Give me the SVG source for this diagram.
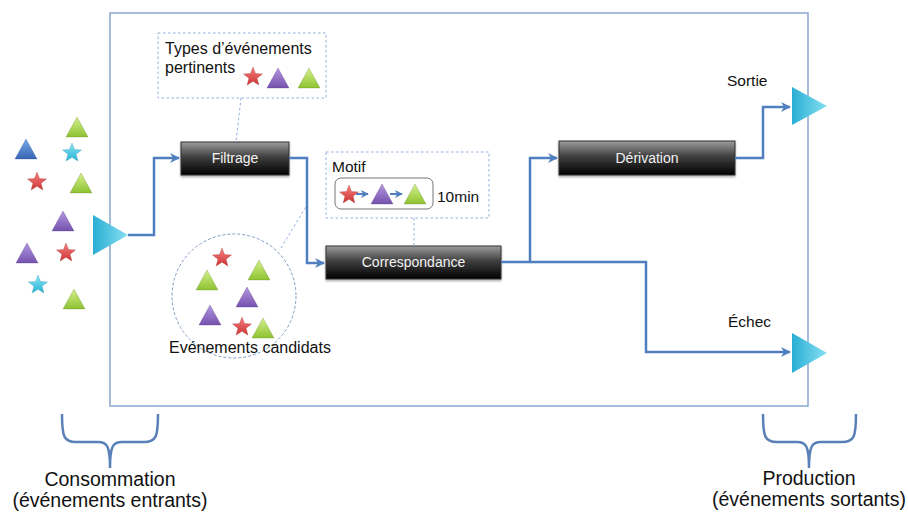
<svg xmlns="http://www.w3.org/2000/svg" width="908" height="513" viewBox="0 0 908 513">
<style>
.t{font-family:"Liberation Sans",Arial,sans-serif;fill:#111}
.bt{font-family:"Liberation Sans",Arial,sans-serif;fill:#f2f2f2;font-size:14px;text-anchor:middle}
.conn{fill:none;stroke:#4f7fbf;stroke-width:2.5}
.dot{fill:none;stroke:#8fb0dc;stroke-width:1;stroke-dasharray:2.5 2.5}
.box{stroke:#333;stroke-width:1}
.brace{fill:none;stroke:#5a80b8;stroke-width:2.5}
</style>
<defs>
<linearGradient id="gGreen" x1="0" y1="0" x2="0" y2="1"><stop offset="0" stop-color="#d4f08c"/><stop offset="1" stop-color="#8ec232"/></linearGradient>
<linearGradient id="gPurple" x1="0" y1="0" x2="0" y2="1"><stop offset="0" stop-color="#b497e0"/><stop offset="1" stop-color="#7552ae"/></linearGradient>
<linearGradient id="gBlue" x1="0" y1="0" x2="0" y2="1"><stop offset="0" stop-color="#78a8ea"/><stop offset="1" stop-color="#3766b4"/></linearGradient>
<linearGradient id="gRed" x1="0" y1="0" x2="0" y2="1"><stop offset="0" stop-color="#f78080"/><stop offset="1" stop-color="#cc3434"/></linearGradient>
<linearGradient id="gCyan" x1="0" y1="0" x2="0" y2="1"><stop offset="0" stop-color="#8ee9f7"/><stop offset="1" stop-color="#26b0d2"/></linearGradient>
<linearGradient id="gBig" x1="0" y1="0" x2="1" y2="0"><stop offset="0" stop-color="#2aaed4"/><stop offset="1" stop-color="#86e0f2"/></linearGradient>
<linearGradient id="gBox" x1="0" y1="0" x2="0" y2="1"><stop offset="0" stop-color="#9c9c9c"/><stop offset="0.45" stop-color="#404040"/><stop offset="1" stop-color="#000"/></linearGradient>
<path id="tri" d="M-11,10 L0,-10 L11,10 Z" stroke-opacity="0.35" stroke-width="0.8"/>
<path id="star" d="M0,-10 L2.53,-3.48 L9.51,-3.09 L4.09,1.33 L5.88,8.09 L0,4.3 L-5.88,8.09 L-4.09,1.33 L-9.51,-3.09 L-2.53,-3.48 Z" stroke-opacity="0.35" stroke-width="0.8"/>
<marker id="arr" viewBox="0 0 10 10" refX="9" refY="5" markerWidth="4" markerHeight="4" orient="auto" markerUnits="strokeWidth"><path d="M0,0 L10,5 L0,10 L3,5 Z" fill="#4f7fbf"/></marker>
<filter id="sh" x="-10%" y="-10%" width="120%" height="140%"><feDropShadow dx="0" dy="1.5" stdDeviation="1.2" flood-color="#000" flood-opacity="0.35"/></filter>
</defs>
<rect width="908" height="513" fill="#fff"/>
<rect id="frame" x="110" y="13" width="698" height="393" fill="none" stroke="#88a6d0" stroke-width="1.5"/>

<g id="input-events">
<use href="#tri" x="77" y="127" fill="url(#gGreen)" stroke="#5a8020"/>
<use href="#tri" x="26" y="149" fill="url(#gBlue)" stroke="#204a90"/>
<use href="#star" x="72" y="153" fill="url(#gCyan)" stroke="#1880a0"/>
<use href="#star" x="37" y="182" fill="url(#gRed)" stroke="#902020"/>
<use href="#tri" x="81" y="183" fill="url(#gGreen)" stroke="#5a8020"/>
<use href="#tri" x="63" y="221" fill="url(#gPurple)" stroke="#4a3080"/>
<use href="#tri" x="27" y="253" fill="url(#gPurple)" stroke="#4a3080"/>
<use href="#star" x="66" y="253" fill="url(#gRed)" stroke="#902020"/>
<use href="#star" x="38" y="285" fill="url(#gCyan)" stroke="#1880a0"/>
<use href="#tri" x="74" y="299" fill="url(#gGreen)" stroke="#5a8020"/>
</g>

<g id="input">
<polygon points="93,215 93,255 128,235" fill="url(#gBig)"/>
</g>

<g id="types">
<rect x="158" y="33" width="168" height="65" fill="none" class="dot"/>
<text class="t" x="165" y="54" font-size="16">Types d’événements</text>
<text class="t" x="165" y="73" font-size="16">pertinents</text>
<use href="#star" x="253" y="77" fill="url(#gRed)" stroke="#902020"/>
<use href="#tri" x="278" y="78" fill="url(#gPurple)" stroke="#4a3080"/>
<use href="#tri" x="309" y="78" fill="url(#gGreen)" stroke="#5a8020"/>
</g>

<g id="motif">
<rect x="326" y="152" width="163" height="66" fill="none" class="dot"/>
<text class="t" x="332" y="172" font-size="15.5">Motif</text>
<rect x="335" y="178" width="98" height="31" rx="6" fill="#fff" stroke="#777" stroke-width="1"/>
<use href="#star" x="349" y="195" fill="url(#gRed)" stroke="#902020"/>
<path d="M356,194 H368" stroke="#4f7fbf" stroke-width="2" marker-end="url(#arr)"/>
<use href="#tri" x="382" y="194" fill="url(#gPurple)" stroke="#4a3080"/>
<path d="M390,194 H402" stroke="#4f7fbf" stroke-width="2" marker-end="url(#arr)"/>
<use href="#tri" x="415" y="194" fill="url(#gGreen)" stroke="#5a8020"/>
<text class="t" x="437" y="202" font-size="15.5">10min</text>
</g>

<g id="candidats">
<circle cx="234" cy="296" r="62" fill="none" stroke="#7f9cc4" stroke-width="1" stroke-dasharray="3 2"/>
<use href="#star" x="222" y="258" fill="url(#gRed)" stroke="#902020"/>
<use href="#tri" x="207" y="280" fill="url(#gGreen)" stroke="#5a8020"/>
<use href="#tri" x="259" y="270" fill="url(#gGreen)" stroke="#5a8020"/>
<use href="#tri" x="247" y="297" fill="url(#gPurple)" stroke="#4a3080"/>
<use href="#tri" x="210" y="315" fill="url(#gPurple)" stroke="#4a3080"/>
<use href="#star" x="242" y="327" fill="url(#gRed)" stroke="#902020"/>
<use href="#tri" x="263" y="328" fill="url(#gGreen)" stroke="#5a8020"/>
<text class="t" x="169" y="353" font-size="16">Evénements candidats</text>
</g>

<g id="filtrage">
<rect class="box" x="181" y="142" width="108" height="33" fill="url(#gBox)" filter="url(#sh)"/>
<text class="bt" x="235" y="163">Filtrage</text>
</g>
<g id="correspondance">
<rect class="box" x="326" y="246" width="175" height="33" fill="url(#gBox)" filter="url(#sh)"/>
<text class="bt" x="413.5" y="267">Correspondance</text>
</g>
<g id="derivation">
<rect class="box" x="559" y="141" width="176" height="34" fill="url(#gBox)" filter="url(#sh)"/>
<text class="bt" x="647" y="163">Dérivation</text>
</g>

<g id="sortie">
<polygon points="792,87 792,125 827,106" fill="url(#gBig)"/>
<text class="t" x="727" y="86" font-size="15.5">Sortie</text>
</g>
<g id="echec">
<polygon points="792,333 792,373 827,353" fill="url(#gBig)"/>
<text class="t" x="728" y="327" font-size="15.5">Échec</text>
</g>

<g id="connectors">
<path class="dot" d="M241,98 L236,142"/>
<path class="dot" d="M414,218 V246"/>
<path class="dot" d="M281,248 L307,205"/>
<path class="conn" d="M128,235 H154 V158 H179" marker-end="url(#arr)"/>
<path class="conn" d="M289,158 H307 V263 H324" marker-end="url(#arr)"/>
<path class="conn" d="M501,262 H530 V158 H557" marker-end="url(#arr)"/>
<path class="conn" d="M530,262 H646 V352 H790" marker-end="url(#arr)"/>
<path class="conn" d="M735,158 H763 V107 H790" marker-end="url(#arr)"/>
</g>

<g id="consommation">
<path class="brace" d="M62,414 C62,437 64,442 76,442 H98 C107,442 110,446 110,468 C110,446 113,442 122,442 H144 C156,442 158,437 158,414"/>
<text class="t" x="110" y="486" font-size="19.5" text-anchor="middle">Consommation</text>
<text class="t" x="110" y="507" font-size="19.5" text-anchor="middle">(événements entrants)</text>
</g>
<g id="production">
<path class="brace" d="M763,414 C763,437 765,442 777,442 H797 C806,442 809,446 809,468 C809,446 812,442 821,442 H842 C854,442 856,437 856,414"/>
<text class="t" x="809" y="485" font-size="19.5" text-anchor="middle">Production</text>
<text class="t" x="809" y="506" font-size="19.5" text-anchor="middle">(événements sortants)</text>
</g>
</svg>
